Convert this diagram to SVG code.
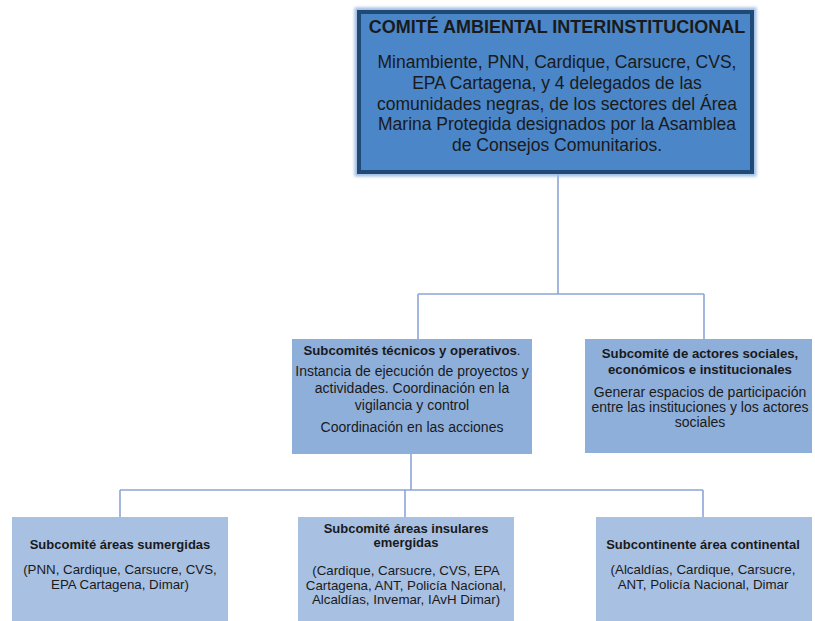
<svg xmlns="http://www.w3.org/2000/svg" width="815" height="621" viewBox="0 0 815 621">
<style>
  text { font-family: "Liberation Sans", Arial, sans-serif; fill: #1a1a1a; text-anchor: middle; }
  .conn { fill: none; stroke: #8ca5d7; stroke-width: 1.6; }
  .mid { fill: #8fafdb; }
  .bot { fill: #a8c0e2; }
  .t0 { font-size: 18px; font-weight: bold; }
  .b0 { font-size: 17.5px; }
  .t1 { font-size: 13.2px; font-weight: bold; }
  .b1 { font-size: 14px; }
  .t2 { font-size: 13px; font-weight: bold; }
  .b2 { font-size: 13.3px; }
</style>
<defs>
  <filter id="glow" x="-10%" y="-10%" width="120%" height="120%">
    <feGaussianBlur stdDeviation="1.6"/>
  </filter>
</defs>
<rect width="815" height="621" fill="#ffffff"/>
<g id="connectors">
  <path class="conn" d="M558 174 V294 M418 294 H704 M418 294 V339 M704 294 V339"/>
  <path class="conn" d="M411 454 V490 M120 490 H703 M120 490 V517 M405 490 V517 M703 490 V517"/>
</g>
<g id="comite">
  <rect x="357" y="10" width="397" height="164" fill="none" stroke="#9fbbe4" stroke-width="5" filter="url(#glow)"/>
  <rect x="359" y="12" width="393" height="160" fill="#4a86c8" stroke="#1f4a75" stroke-width="4"/>
  <text class="t0" x="557" y="33">COMITÉ AMBIENTAL INTERINSTITUCIONAL</text>
  <text class="b0" x="557" y="68">Minambiente, PNN, Cardique, Carsucre, CVS,</text>
  <text class="b0" x="557" y="89">EPA Cartagena, y 4 delegados de las</text>
  <text class="b0" x="557" y="109.5">comunidades negras, de los sectores del Área</text>
  <text class="b0" x="557" y="130">Marina Protegida designados por la Asamblea</text>
  <text class="b0" x="557" y="151">de Consejos Comunitarios.</text>
</g>
<g id="tecnicos">
  <rect class="mid" x="292" y="339" width="240" height="115"/>
  <text class="t1" x="412" y="355">Subcomités técnicos y operativos<tspan font-weight="normal">.</tspan></text>
  <text class="b1" x="412" y="376">Instancia de ejecución de proyectos y</text>
  <text class="b1" x="412" y="393">actividades. Coordinación en la</text>
  <text class="b1" x="412" y="410">vigilancia y control</text>
  <text class="b1" x="412" y="432">Coordinación en las acciones</text>
</g>
<g id="actores">
  <rect class="mid" x="585" y="339" width="227" height="114"/>
  <text class="t1" x="700" y="358">Subcomité de actores sociales,</text>
  <text class="t1" x="700" y="374">económicos e institucionales</text>
  <text class="b1" x="700" y="397">Generar espacios de participación</text>
  <text class="b1" x="700" y="412">entre las instituciones y los actores</text>
  <text class="b1" x="700" y="427">sociales</text>
</g>
<g id="sumergidas">
  <rect class="bot" x="12" y="517" width="216" height="110"/>
  <text class="t2" x="120" y="549">Subcomité áreas sumergidas</text>
  <text class="b2" x="120" y="574">(PNN, Cardique, Carsucre, CVS,</text>
  <text class="b2" x="120" y="589">EPA Cartagena, Dimar)</text>
</g>
<g id="insulares">
  <rect class="bot" x="298" y="517" width="216" height="110"/>
  <text class="t2" x="406" y="533">Subcomité áreas insulares</text>
  <text class="t2" x="406" y="547">emergidas</text>
  <text class="b2" x="406" y="575">(Cardique, Carsucre, CVS, EPA</text>
  <text class="b2" x="406" y="590">Cartagena, ANT, Policía Nacional,</text>
  <text class="b2" x="406" y="604">Alcaldías, Invemar, IAvH Dimar)</text>
</g>
<g id="continental">
  <rect class="bot" x="596" y="517" width="216" height="110"/>
  <text class="t2" x="703" y="549">Subcontinente área continental</text>
  <text class="b2" x="703" y="574">(Alcaldías, Cardique, Carsucre,</text>
  <text class="b2" x="703" y="589">ANT, Policía Nacional, Dimar</text>
</g>
</svg>
